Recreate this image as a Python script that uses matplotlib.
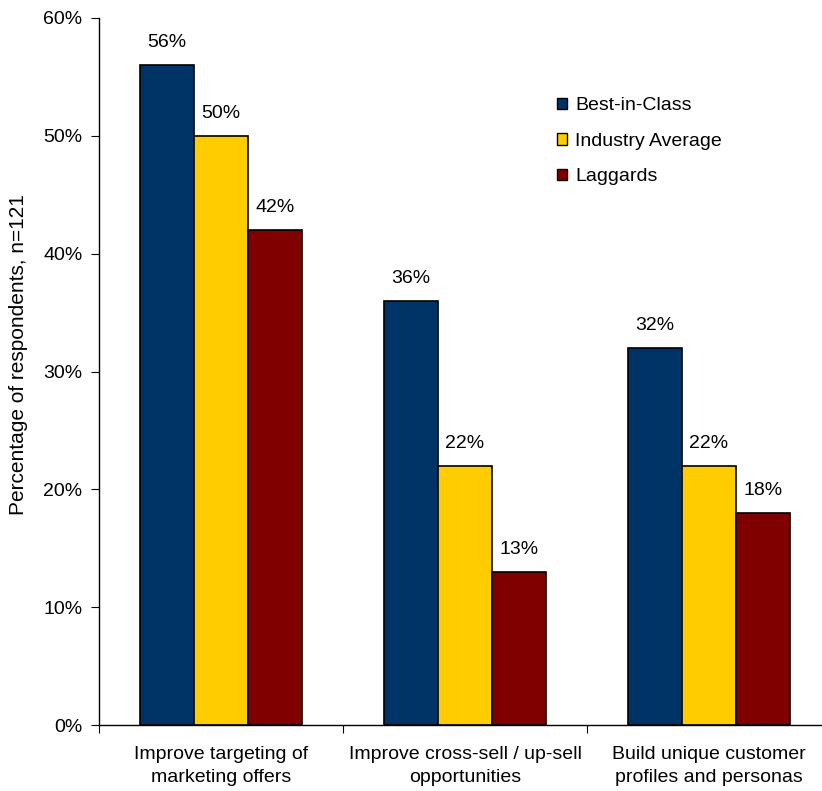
import matplotlib
matplotlib.use("Agg")
import matplotlib.pyplot as plt
import numpy as np

plt.rcParams['font.family'] = ['Liberation Sans', 'DejaVu Sans']

categories = ["Improve targeting of\nmarketing offers",
              "Improve cross-sell / up-sell\nopportunities",
              "Build unique customer\nprofiles and personas"]
series_names = ["Best-in-Class", "Industry Average", "Laggards"]
best_in_class = [56, 36, 32]
industry_avg = [50, 22, 22]
laggards = [42, 13, 18]
colors = ["#003366", "#FFCC00", "#800000"]
yticks = [0, 10, 20, 30, 40, 50, 60]

fig = plt.figure(figsize=(8.22, 7.91), dpi=100)
ax = fig.add_axes([99/822, 1-725/791, (822-99)/822, (725-18)/791])

x = np.arange(len(categories))
w = 0.222
for i, (vals, c, name) in enumerate(zip([best_in_class, industry_avg, laggards], colors, series_names)):
    pos = x + (i - 1) * w
    ax.bar(pos, vals, w, color=c, edgecolor="black", linewidth=1.2, label=name)
    for p, v in zip(pos, vals):
        ax.annotate(f"{v}%", (p, v), xytext=(0, 10), textcoords="offset points",
                    ha="center", va="bottom", fontsize=14)

ax.set_xlim(-0.5, -0.5 + (822-99)/244)
ax.set_ylim(0, 60)
ax.set_yticks(yticks)
ax.set_yticklabels([f"{t}%" for t in yticks], fontsize=14)
ax.set_xticks([-0.5, 0.5, 1.5])
ax.set_xticklabels([])
ax.tick_params(axis="x", length=6, direction="out")
ax.tick_params(axis="y", length=6, direction="out", pad=6)
for i, cat in enumerate(categories):
    ax.text(i, -1.75, cat, ha="center", va="top", fontsize=14, linespacing=1.5)
ax.spines["top"].set_visible(False)
ax.spines["right"].set_visible(False)
ax.spines["left"].set_linewidth(1.0)
ax.spines["bottom"].set_linewidth(1.0)
ax.set_ylabel("Percentage of respondents, n=121", fontsize=15)
ax.yaxis.set_label_coords(-(99-28)/723, (725-355)/707)

leg = ax.legend(loc="upper left", bbox_to_anchor=((539-99)/723, 1-(80-18)/707),
                frameon=False, fontsize=14, handlelength=0.55, handleheight=0.55,
                labelspacing=0.95, handletextpad=0.4)
for h in leg.legend_handles:
    h.set_linewidth(1.0)

fig.savefig("out.png", dpi=100)
